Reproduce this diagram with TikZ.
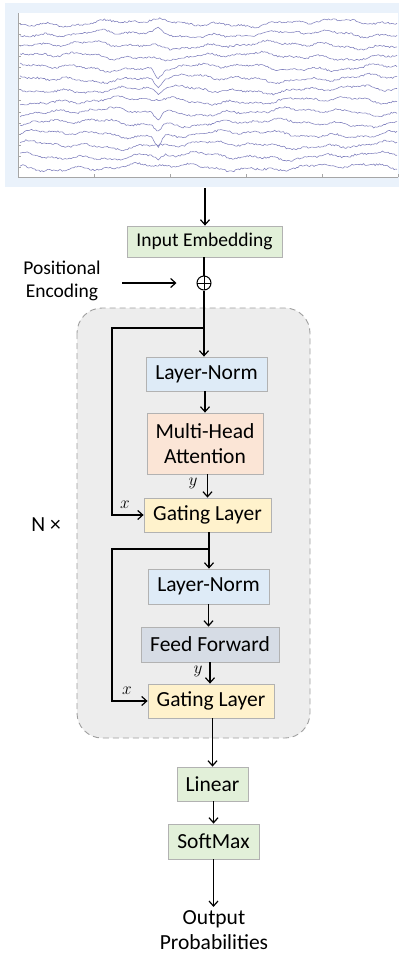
\documentclass[tikz,border=0pt]{standalone}
\usepackage{fontspec}
\setmainfont{Carlito}
\usetikzlibrary{arrows.meta}

\definecolor{embgreen}{HTML}{E2F0D9}
\definecolor{normblue}{HTML}{DEEBF7}
\definecolor{attnorange}{HTML}{FBE5D6}
\definecolor{gateyellow}{HTML}{FFF2CC}
\definecolor{ffgray}{HTML}{D6DCE5}
\definecolor{stackgray}{HTML}{EDEDED}
\definecolor{eegbg}{HTML}{EAF2FB}
\definecolor{eegline}{HTML}{8080BE}

\begin{document}
\begin{tikzpicture}[x=1pt, y=-1pt,
      font=\fontsize{21.5}{25}\selectfont,
      small/.style={font=\fontsize{19.5}{23}\selectfont},
      block/.style={draw=gray!60, line width=0.8pt, inner sep=0pt, align=center},
      arr/.style={line width=1.2pt, -{Straight Barb[length=5pt,width=9pt]}},
      wire/.style={line width=1.2pt},
      var/.style={font=\fontsize{17}{17}\selectfont, inner sep=0pt}
      ]
      \useasboundingbox (0,0) rectangle (399,954);

      % signal panel
      \fill[eegbg] (5,3) rectangle (399,187);
      \fill[white] (18,13) rectangle (398,177);
      \draw[gray!70, line width=0.5pt] (18,13) -- (18,177) -- (398,177);
      \foreach \tx in {18,94,170,246,322,398}
        \draw[gray!70, line width=0.5pt] (\tx,177) -- (\tx,174);
      \pgfmathsetseed{11}
      \foreach \i/\k in {0/0,1/-4,2/0,3/0,4/10,5/9,6/5,7/0,8/8,9/7,10/12,11/0,12/5,13/0}{
        \pgfmathsetmacro{\yz}{23+11.1*\i}
        \draw[gray!70, line width=0.5pt] (18,\yz) -- (21,\yz);
        \draw[eegline, line width=0.55pt] plot[domain=20:397, samples=260]
          (\x, {\yz + 2.4*sin(\x*1.9+53*\i) + 1.5*sin(\x*6.1+40*\i) + 1.0*sin(\x*13+25*\i) + 0.9*rand
                 + \k*max(0,1-abs(\x-158)/7)});
      }

      % encoder stack background
      \draw[gray!75, dash pattern=on 6pt off 4pt, line width=0.9pt, fill=stackgray, rounded corners=25pt]
        (77,308) rectangle (310,738);

      \node[block, small, fill=embgreen, minimum width=155pt, minimum height=31pt] (emb) at (204.5,241.5) {Input Embedding};
      \node[circle, draw, line width=1pt, minimum size=14pt, inner sep=0pt,
            path picture={\draw[line width=1pt] (path picture bounding box.north) -- (path picture bounding box.south)
                           (path picture bounding box.west) -- (path picture bounding box.east);}] (plus) at (204,283) {};
      \node[small, align=center] (penc) at (62,281) {Positional\\Encoding};

      \node[block, fill=normblue, minimum width=121pt, minimum height=34pt] (ln1) at (206.5,374) {Layer-Norm};
      \node[block, fill=attnorange, minimum width=116pt, minimum height=61pt] (mha) at (205,443.5) {Multi-Head\\Attention};
      \node[block, fill=gateyellow, minimum width=127pt, minimum height=34pt] (gate1) at (207.5,515) {Gating Layer};
      \node[block, fill=normblue, minimum width=121pt, minimum height=35pt] (ln2) at (208.5,586.5) {Layer-Norm};
      \node[block, fill=ffgray, minimum width=138pt, minimum height=35pt] (ff) at (210,644.5) {Feed Forward};
      \node[block, fill=gateyellow, minimum width=126pt, minimum height=34pt] (gate2) at (211,701) {Gating Layer};
      \node[block, fill=embgreen, minimum width=71pt, minimum height=34pt] (lin) at (212.5,784) {Linear};
      \node[block, fill=embgreen, minimum width=91pt, minimum height=35pt] (soft) at (213.5,841.5) {SoftMax};
      \node[align=center] (out) at (214,930) {Output\\Probabilities};
      \node (rep) at (46,525) {N ×};

      \node[var] (y1) at (193,483) {$y$};
      \node[var] (x1) at (125,505) {$x$};
      \node[var] (y2) at (198,671) {$y$};
      \node[var] (x2) at (127,691) {$x$};

      \coordinate (sig) at (205,188);
      \coordinate (br1) at (204,328);
      \coordinate (side1) at (112,328);
      \coordinate (br2) at (209,549);
      \coordinate (side2) at (112,549);

      % connectors
      \draw[arr] (sig) -- (sig |- emb.north);
      \draw[wire] (emb.south -| plus) -- (plus.north);
      \draw[arr, shorten <=18pt, shorten >=20pt] (penc.east |- plus) -- (plus.west);
      \draw[arr] (plus.south) -- (plus.south |- ln1.north);
      \draw[arr] (br1) -- (side1) |- (gate1.west);
      \draw[arr] (ln1.south -| mha) -- (mha.north);
      \draw[arr] (mha.south -| gate1) -- (gate1.north);
      \draw[arr] (gate1.south -| br2) -- (br2 |- ln2.north);
      \draw[arr] (br2) -- (side2) |- (gate2.west);
      \draw[arr] (ln2.south) -- (ln2.south |- ff.north);
      \draw[arr] (ff.south) -- (ff.south |- gate2.north);
      \draw[arr] (gate2.south -| lin) -- (lin.north);
      \draw[arr] (lin.south -| soft) -- (soft.north);
      \draw[arr] (soft.south) -- (soft.south |- out.north);
    \end{tikzpicture}
\end{document}
